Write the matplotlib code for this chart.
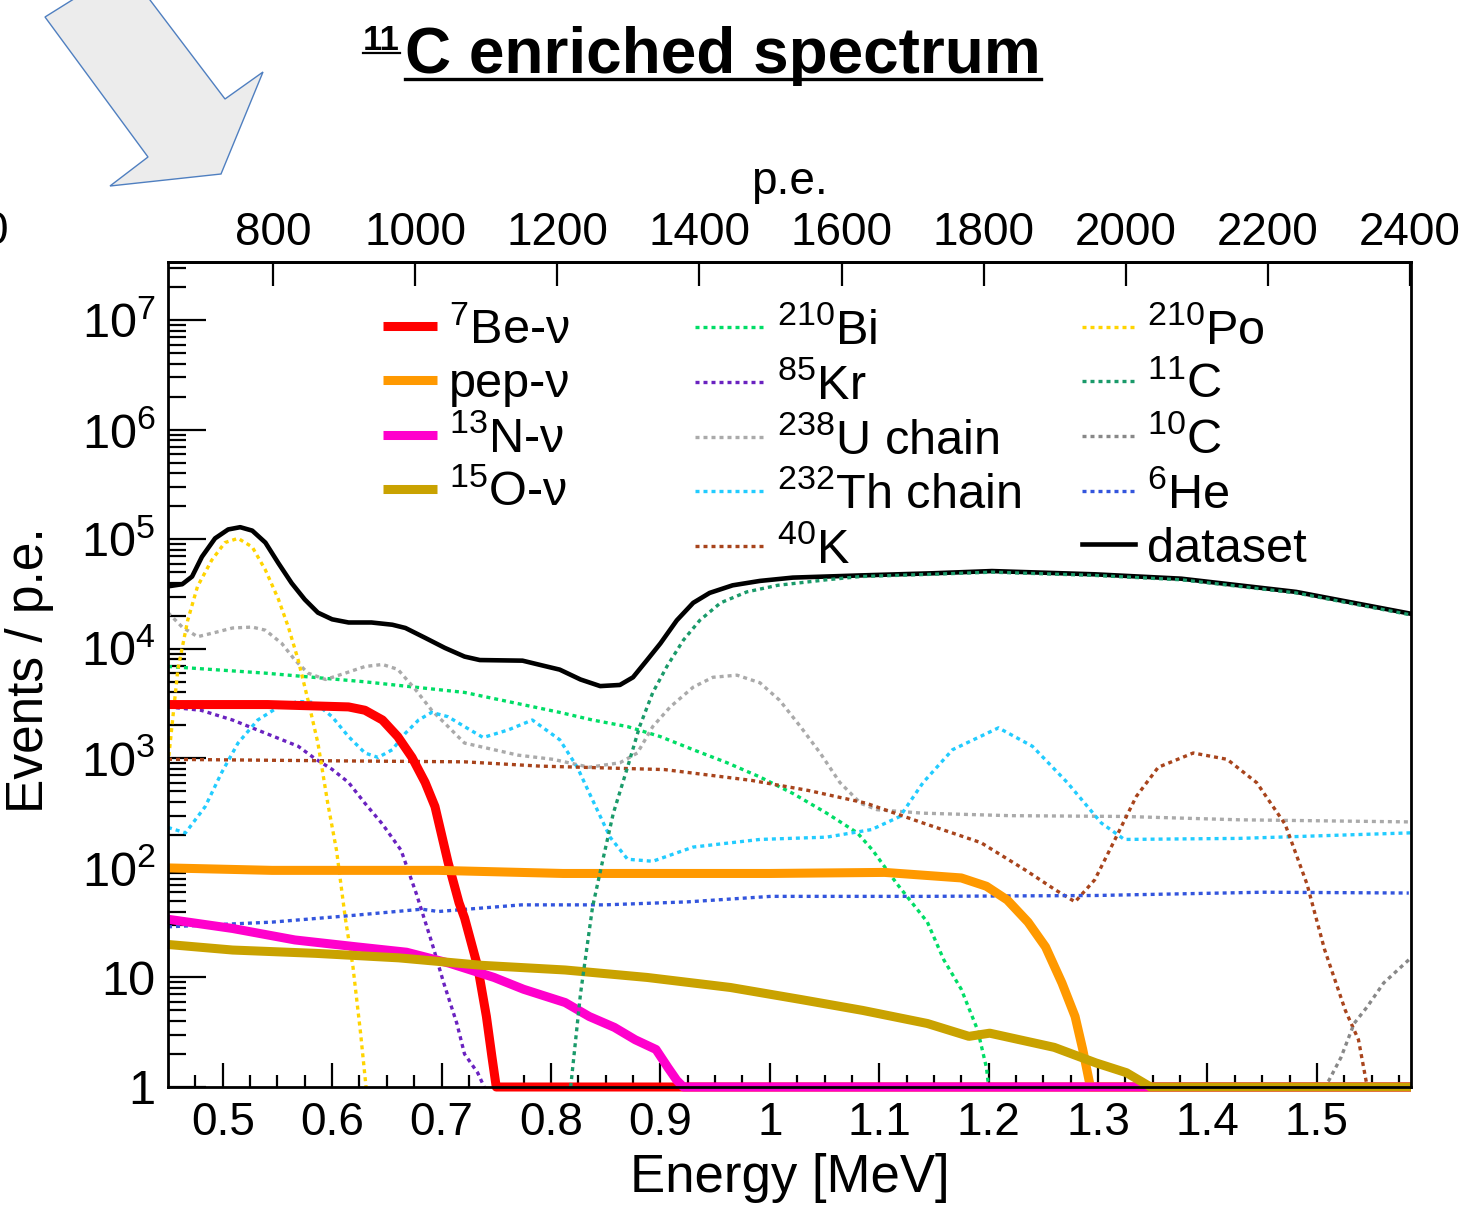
import numpy as np
import matplotlib
matplotlib.use('Agg')
import matplotlib.pyplot as plt
from matplotlib.lines import Line2D
from matplotlib.patches import Polygon
from matplotlib.ticker import FixedLocator, LogLocator, NullFormatter, NullLocator

plt.rcParams['font.family'] = ['Liberation Sans', 'DejaVu Sans']
plt.rcParams['mathtext.fontset'] = 'custom'
plt.rcParams['mathtext.rm'] = 'Liberation Sans'
plt.rcParams['mathtext.default'] = 'regular'

# ---- data (energy in MeV, events / p.e.) ----
data_e = [0.450, 0.463, 0.472, 0.481, 0.493, 0.505, 0.516, 0.527, 0.539, 0.551, 0.563, 0.575,
          0.587, 0.600, 0.615, 0.636, 0.655, 0.667, 0.685, 0.703, 0.721, 0.735, 0.774, 0.796,
          0.808, 0.827, 0.845, 0.863, 0.875, 0.888, 0.900, 0.915, 0.930, 0.945, 0.966, 0.991,
          1.021, 1.083, 1.150, 1.203, 1.297, 1.376, 1.481, 1.586]
data_y = [37200, 38900, 45700, 69200, 102000, 123000, 129000, 120000, 93300, 60300, 39800, 28200,
          21400, 18600, 17400, 17400, 16600, 15500, 12600, 10200, 8500, 7900, 7800, 6900,
          6460, 5250, 4570, 4680, 5500, 7940, 11200, 18200, 26300, 32400, 38000, 41700,
          44700, 46800, 49000, 51300, 47900, 43700, 33100, 20900]

be7_e = [0.450, 0.541, 0.615, 0.630, 0.646, 0.660, 0.673, 0.685, 0.694, 0.706, 0.716, 0.721,
         0.733, 0.741, 0.746, 0.750, 1.586]
be7_y = [3100, 3100, 2950, 2750, 2240, 1580, 1020, 603, 363, 112, 48, 35, 12.6, 4.4, 1.9, 1, 1]

pep_e = [0.450, 0.545, 0.697, 0.811, 1.000, 1.105, 1.175, 1.198, 1.217, 1.236, 1.252, 1.267,
         1.279, 1.286, 1.293, 1.586]
pep_y = [100, 95, 95, 89, 89, 91, 81, 68, 51, 32, 19, 8.9, 4.4, 2.2, 1, 1]

n13_e = [0.450, 0.509, 0.566, 0.623, 0.668, 0.707, 0.748, 0.775, 0.813, 0.835, 0.858, 0.877,
         0.896, 0.907, 0.915, 0.921, 1.586]
n13_y = [34, 28, 22, 19, 17, 13.5, 10, 7.8, 5.9, 4.4, 3.5, 2.7, 2.2, 1.5, 1.15, 1, 1]

o15_e = [0.450, 0.509, 0.585, 0.661, 0.737, 0.813, 0.888, 0.964, 1.028, 1.085, 1.144, 1.182,
         1.201, 1.260, 1.298, 1.326, 1.348, 1.586]
o15_y = [20, 17.8, 16.6, 15.1, 12.9, 11.7, 10, 8.1, 6.3, 5.0, 3.8, 2.9, 3.1, 2.3, 1.66, 1.35, 1, 1]

bi210_e = [0.450, 0.539, 0.630, 0.721, 0.808, 0.838, 0.870, 0.900, 0.930, 0.961, 0.991, 1.021,
           1.052, 1.080, 1.094, 1.116, 1.144, 1.159, 1.175, 1.190, 1.198, 1.200]
bi210_y = [6900, 6000, 5000, 4000, 2630, 2240, 1950, 1580, 1200, 912, 676, 479,
           316, 209, 145, 72, 32, 14.5, 7.8, 3.3, 1.5, 1]

kr85_e = [0.450, 0.480, 0.509, 0.539, 0.569, 0.584, 0.600, 0.615, 0.630, 0.646, 0.663, 0.677,
          0.691, 0.702, 0.714, 0.721, 0.733, 0.739]
kr85_y = [2950, 2750, 2240, 1700, 1290, 1000, 794, 603, 389, 251, 145, 58,
          21, 8.9, 3.8, 2.0, 1.35, 1]

u238_e = [0.450, 0.463, 0.477, 0.493, 0.509, 0.527, 0.539, 0.554, 0.566, 0.578, 0.594, 0.612,
          0.630, 0.646, 0.660, 0.676, 0.691, 0.706, 0.721, 0.770, 0.802, 0.835, 0.863, 0.879,
          0.893, 0.909, 0.930, 0.948, 0.970, 0.991, 1.009, 1.028, 1.046, 1.064, 1.083, 1.098,
          1.140, 1.219, 1.324, 1.429, 1.586]
u238_y = [21400, 15800, 12900, 14100, 15500, 15800, 14800, 11200, 7900, 6000, 5250, 6000,
          6900, 7200, 6500, 4270, 2750, 1950, 1380, 1070, 980, 830, 912, 1120,
          1950, 2950, 4470, 5500, 5750, 4900, 3390, 1950, 1120, 603, 389, 340,
          316, 300, 295, 275, 263]

th232_e = [0.450, 0.466, 0.484, 0.499, 0.514, 0.532, 0.551, 0.569, 0.584, 0.600, 0.615, 0.630,
           0.642, 0.655, 0.667, 0.679, 0.691, 0.706, 0.721, 0.738, 0.761, 0.783, 0.808, 0.824,
           0.838, 0.854, 0.870, 0.893, 0.930, 0.991, 1.052, 1.093, 1.119, 1.140, 1.167, 1.209,
           1.240, 1.272, 1.303, 1.324, 1.429, 1.586]
th232_y = [234, 209, 363, 741, 1380, 2240, 2950, 3310, 3240, 2400, 1580, 1120,
           1020, 1200, 1700, 2240, 2630, 2400, 1950, 1550, 1820, 2240, 1480, 832,
           417, 191, 120, 115, 155, 182, 191, 224, 295, 600, 1200, 1900,
           1290, 600, 257, 182, 186, 209]

k40_e = [0.450, 0.600, 0.721, 0.790, 0.904, 0.983, 1.035, 1.088, 1.140, 1.193, 1.234, 1.261,
         1.279, 1.297, 1.314, 1.335, 1.355, 1.387, 1.418, 1.445, 1.471, 1.491, 1.507, 1.526,
         1.538, 1.546]
k40_y = [980, 950, 930, 850, 790, 630, 510, 390, 257, 170, 95, 63,
         49, 78, 170, 450, 830, 1120, 980, 600, 250, 71, 18, 5, 2.7, 1]

po210_e = [0.450, 0.452, 0.459, 0.468, 0.477, 0.490, 0.502, 0.514, 0.527, 0.539, 0.551, 0.560,
           0.569, 0.578, 0.587, 0.596, 0.604, 0.612, 0.619, 0.626, 0.631]
po210_y = [890, 1380, 6460, 18200, 37200, 64600, 93300, 102000, 85100, 52500, 28200, 15800,
           7900, 3390, 1380, 389, 145, 35, 12.6, 3.1, 1]

c11_e = [0.818, 0.827, 0.838, 0.848, 0.857, 0.870, 0.881, 0.893, 0.906, 0.921, 0.936, 0.955,
         0.979, 1.007, 1.052, 1.083, 1.150, 1.203, 1.297, 1.376, 1.481, 1.586]
c11_y = [1, 7.1, 44, 126, 316, 832, 1950, 3980, 6920, 12000, 18200, 26300,
         33100, 38000, 42700, 45700, 48000, 50100, 46800, 42700, 32400, 20400]

c10_e = [1.505, 1.511, 1.522, 1.534, 1.546, 1.561, 1.584]
c10_y = [1, 1.15, 1.86, 3.8, 5.4, 8.9, 14.5]

he6_e = [0.450, 0.545, 0.621, 0.682, 0.697, 0.773, 0.849, 0.925, 1.001, 1.142, 1.297, 1.451, 1.584]
he6_y = [29, 32, 37, 42, 40, 46, 46, 49, 55, 55, 56, 60, 59]

# axis ticks
e_ticks = [0.5, 0.6, 0.7, 0.8, 0.9, 1.0, 1.1, 1.2, 1.3, 1.4, 1.5]
e_labels = ['0.5', '0.6', '0.7', '0.8', '0.9', '1', '1.1', '1.2', '1.3', '1.4', '1.5']
pe_ticks = [800, 1000, 1200, 1400, 1600, 1800, 2000, 2200, 2400]
y_ticks = [1, 10, 1e2, 1e3, 1e4, 1e5, 1e6, 1e7]
y_labels = ['1', '10', '$10^{2}$', '$10^{3}$', '$10^{4}$', '$10^{5}$', '$10^{6}$', '$10^{7}$']

PE_PER_MEV = 1540.0
PE_OFFSET = -41.0


def e_to_pe(e):
    return np.asarray(e) * PE_PER_MEV + PE_OFFSET


def pe_to_e(pe):
    return (np.asarray(pe) - PE_OFFSET) / PE_PER_MEV


W, H = 1463, 1216
fig = plt.figure(figsize=(W / 100, H / 100), dpi=100)
ax = fig.add_axes([168 / W, 1 - 1087 / H, 1243 / W, 825 / H])

dot = (0, (1.2, 1.2))
dlw = 2.4
thick = 6.5

bi, = ax.plot(bi210_e, bi210_y, color='#00dd66', lw=dlw, ls=dot, label='$^{210}$Bi')
kr, = ax.plot(kr85_e, kr85_y, color='#6a22c0', lw=dlw, ls=dot, label='$^{85}$Kr')
u, = ax.plot(u238_e, u238_y, color='#aaaaaa', lw=dlw, ls=dot, label='$^{238}$U chain')
th, = ax.plot(th232_e, th232_y, color='#22ccff', lw=dlw, ls=dot, label='$^{232}$Th chain')
k, = ax.plot(k40_e, k40_y, color='#a8441c', lw=dlw, ls=dot, label='$^{40}$K')
po, = ax.plot(po210_e, po210_y, color='#ffd400', lw=dlw, ls=dot, label='$^{210}$Po')
c10, = ax.plot(c10_e, c10_y, color='#888888', lw=dlw, ls=dot, label='$^{10}$C')
he, = ax.plot(he6_e, he6_y, color='#3355dd', lw=dlw, ls=dot, label='$^{6}$He')

be, = ax.plot(be7_e, be7_y, color='#ff0000', lw=thick, solid_capstyle='butt', clip_on=False,
              label='$^{7}$Be-ν')
pep, = ax.plot(pep_e, pep_y, color='#ff9900', lw=thick, solid_capstyle='butt', clip_on=False,
               label='pep-ν')
n13, = ax.plot(n13_e, n13_y, color='#ff00cc', lw=thick, solid_capstyle='butt', clip_on=False,
               label='$^{13}$N-ν')
o15, = ax.plot(o15_e, o15_y, color='#c9a200', lw=thick, solid_capstyle='butt', clip_on=False,
               label='$^{15}$O-ν')

ds, = ax.plot(data_e, data_y, color='black', lw=3.3, label='dataset')
c11, = ax.plot(c11_e, c11_y, color='#1a9a6a', lw=dlw, ls=dot, label='$^{11}$C')

ax.set_yscale('log')
ax.set_xlim(0.45, 1.586)
ax.set_ylim(1, 3.4e7)

ax.set_xticks(e_ticks, e_labels)
ax.xaxis.set_minor_locator(FixedLocator(np.arange(0.475, 1.586, 0.025)))
ax.set_yticks(y_ticks, y_labels)
ax.yaxis.set_minor_locator(LogLocator(base=10, subs=np.arange(2, 10), numticks=20))
ax.yaxis.set_minor_formatter(NullFormatter())

ax.tick_params(axis='x', which='major', direction='in', length=17, width=1.6, labelsize=33,
               pad=10, top=False)
ax.tick_params(axis='x', which='minor', direction='in', length=9, width=1.6, top=False)
ax.tick_params(axis='y', which='major', direction='in', length=27, width=1.6, labelsize=35,
               pad=9, right=False)
ax.tick_params(axis='y', which='minor', direction='in', length=13, width=1.6, right=False)
for s in ax.spines.values():
    s.set_linewidth(2)

ax.set_xlabel('Energy [MeV]', fontsize=38)
ax.xaxis.set_label_coords(0.5, -0.08)
fig.text(30 / W, 1 - 670 / H, 'Events / p.e.', fontsize=37, rotation=90, ha='center', va='center')

sec = ax.secondary_xaxis('top', functions=(e_to_pe, pe_to_e))
sec.set_xticks(pe_ticks)
sec.xaxis.set_minor_locator(NullLocator())
sec.tick_params(direction='in', length=17, width=1.6, labelsize=33, pad=5)
sec.spines['top'].set_linewidth(2)
sec.set_xlabel('p.e.', fontsize=33, labelpad=12)

leg_kw = dict(frameon=False, fontsize=35, handletextpad=0.25, borderpad=0, borderaxespad=0,
              labelspacing=0.18)
leg1 = ax.legend(handles=[be, pep, n13, o15], loc='upper left', bbox_to_anchor=(0.173, 0.944),
                 handlelength=1.1, **leg_kw)
ax.add_artist(leg1)
leg2 = ax.legend(handles=[bi, kr, u, th, k], loc='upper left', bbox_to_anchor=(0.424, 0.944),
                 handlelength=1.44, **leg_kw)
ax.add_artist(leg2)
leg3 = ax.legend(handles=[po, c11, c10, he, ds], loc='upper left', bbox_to_anchor=(0.735, 0.944),
                 handlelength=1.1, **leg_kw)

# slide decorations: title, arrow and a cut-off glyph at the left edge
t_sup = fig.text(363 / W, 1 - 50 / H, '11', fontsize=25, fontweight='bold', va='baseline')
t_main = fig.text(405 / W, 1 - 73 / H, 'C enriched spectrum', fontsize=46, fontweight='bold',
                  va='baseline')
fig.text(8 / W, 1 - 232 / H, '0', fontsize=33, ha='right', va='center')

arrow_px = [(45, 17), (125, -33), (225, 99), (263, 72), (221, 174), (110, 186), (148, 157)]
fig.add_artist(Polygon([(x / W, 1 - y / H) for x, y in arrow_px], closed=True,
                       facecolor='#ececec', edgecolor='#4f7fc0', lw=1,
                       transform=fig.transFigure, clip_on=False))

fig.canvas.draw()
r = fig.canvas.get_renderer()
for t, y_px, lw in [(t_sup, 53, 1.6), (t_main, 79, 2.4)]:
    bb = t.get_window_extent(r)
    fig.add_artist(Line2D([bb.x0 / W, bb.x1 / W], [1 - y_px / H, 1 - y_px / H], color='black',
                          lw=lw, transform=fig.transFigure))

fig.savefig('out.png', dpi=100)
